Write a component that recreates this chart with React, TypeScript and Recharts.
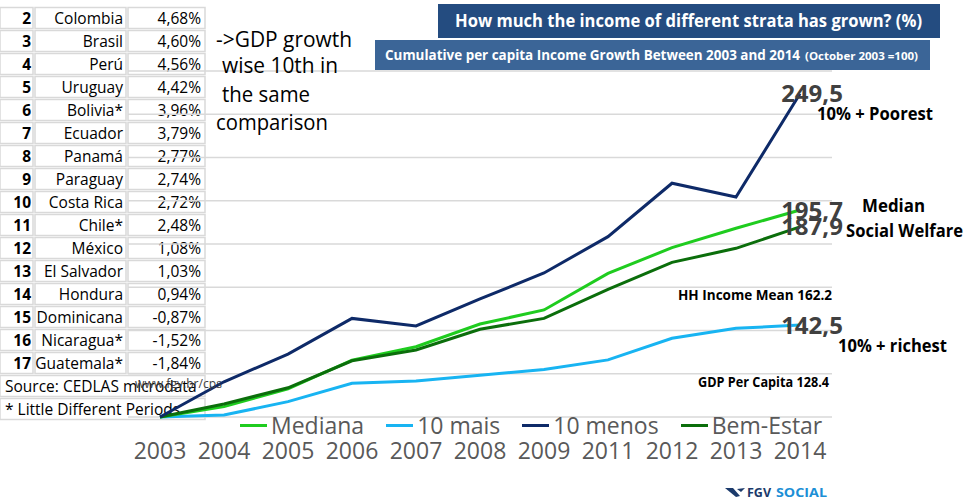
import { LineChart, Line, XAxis, YAxis, CartesianGrid, LabelList } from 'recharts';

const years = ['2003', '2004', '2005', '2006', '2007', '2008', '2009', '2011', '2012', '2013', '2014'];
const mediana = [100, 104.8, 113, 126.3, 132.5, 143, 149.5, 166.4, 178.3, 187.3, 195.7];
const mais10 = [100, 100.9, 107.1, 115.6, 116.6, 119.3, 122.0, 126.4, 136.4, 141.0, 142.5];
const menos10 = [100, 116.3, 129.1, 145.6, 142.1, 154.6, 166.6, 183.4, 208.1, 201.7, 249.5];
const bemEstar = [100, 106, 113.5, 126, 131, 140.6, 145.6, 159, 171.5, 178, 187.9];
const yTicks = [100, 120, 140, 160, 180, 200, 220, 240, 260];

const ranks = ['2', '3', '4', '5', '6', '7', '8', '9', '10', '11', '12', '13', '14', '15', '16', '17'];
const countries = ['Colombia', 'Brasil', 'Perú', 'Uruguay', 'Bolivia*', 'Ecuador', 'Panamá', 'Paraguay', 'Costa Rica', 'Chile*', 'México', 'El Salvador', 'Hondura', 'Dominicana', 'Nicaragua*', 'Guatemala*'];
const growth = ['4,68%', '4,60%', '4,56%', '4,42%', '3,96%', '3,79%', '2,77%', '2,74%', '2,72%', '2,48%', '1,08%', '1,03%', '0,94%', '-0,87%', '-1,52%', '-1,84%'];

const data = years.map((year, i) => ({
    year,
    mediana: mediana[i],
    mais10: mais10[i],
    menos10: menos10[i],
    bemEstar: bemEstar[i],
}));

const series = [
    { key: 'mediana', name: 'Mediana', color: '#1fcc1f' },
    { key: 'mais10', name: '10 mais', color: '#18b4f2' },
    { key: 'menos10', name: '10 menos', color: '#0e2a68' },
    { key: 'bemEstar', name: 'Bem-Estar', color: '#0b6e0b' },
];
const drawOrder = ['mais10', 'mediana', 'bemEstar', 'menos10'];

const font = '"Open Sans", sans-serif';

function EndLabel(props: any) {
    const { x, y, value, index } = props;
    if (index !== years.length - 1) return null;
    return (
        <text x={x + 12} y={y + 8.5} textAnchor="middle" fontFamily={font} fontWeight={700} fontSize={24} fill="#404040">
            {String(value).replace('.', ',')}
        </text>
    );
}

function YearTick(props: any) {
    const { x, y, payload } = props;
    return (
        <text x={x} y={y + 42} textAnchor="middle" fontFamily={font} fontSize={23} fill="#595959">
            {payload.value}
        </text>
    );
}

function Table() {
    const rowTop = (i: number) => 6.5 + 23 * i;
    const cols = [[0, 33], [35, 126], [128, 205]];
    return (
        <svg width={968} height={501} style={{ position: 'absolute', left: 0, top: 0 }}>
            {ranks.map((r, i) => (
                <g key={r}>
                    {cols.map((c, j) => (
                        <rect key={j} x={c[0]} y={rowTop(i) + 1} width={c[1] - c[0]} height={21} fill="none" stroke="#d9d9d9" strokeWidth={1.5} />
                    ))}
                    <text x={31} y={rowTop(i) + 17} textAnchor="end" fontFamily={font} fontWeight={700} fontSize={15.5} fill="#000">{r}</text>
                    <text x={123} y={rowTop(i) + 17} textAnchor="end" fontFamily={font} fontSize={15.5} fill="#000">{countries[i]}</text>
                    <text x={201} y={rowTop(i) + 17} textAnchor="end" fontFamily={font} fontSize={15.5} fill="#000">{growth[i]}</text>
                </g>
            ))}
            <rect x={0} y={rowTop(16) + 1} width={205} height={21} fill="none" stroke="#d9d9d9" strokeWidth={1.5} />
            <rect x={0} y={rowTop(17) + 1} width={205} height={21} fill="none" stroke="#d9d9d9" strokeWidth={1.5} />
            <text x={5} y={rowTop(16) + 17} fontFamily={font} fontSize={15.5} fill="#000">Source: CEDLAS microdata</text>
            <text x={5} y={rowTop(17) + 17} fontFamily={font} fontSize={15.5} fill="#000">* Little Different Periods</text>
        </svg>
    );
}

function Overlay() {
    return (
        <svg width={968} height={501} style={{ position: 'absolute', left: 0, top: 0, pointerEvents: 'none' }} fontFamily={font}>
            <text x={135} y={388} fontSize={13} fill="#404040" textLength={87} lengthAdjust="spacingAndGlyphs">www.fgv.br/cps</text>

            <g fontSize={21} fill="#000">
                <text x={216} y={47} textLength={136} lengthAdjust="spacingAndGlyphs">-&gt;GDP growth</text>
                <text x={222} y={73} textLength={116} lengthAdjust="spacingAndGlyphs">wise 10th in</text>
                <text x={222} y={102} textLength={88} lengthAdjust="spacingAndGlyphs">the same</text>
                <text x={216} y={130} textLength={112} lengthAdjust="spacingAndGlyphs">comparison</text>
            </g>

            <rect x={438} y={4} width={502} height={34} fill="#244c80" />
            <text x={455} y={27} fontSize={17} fontWeight={700} fill="#fff" textLength={467} lengthAdjust="spacingAndGlyphs">
                How much the income of different strata has grown? (%)
            </text>
            <rect x={375} y={40} width={555} height={30} fill="#3b6597" />
            <text x={385} y={60} fontSize={14} fontWeight={700} fill="#fff" textLength={415} lengthAdjust="spacingAndGlyphs">
                Cumulative  per capita Income Growth Between 2003 and 2014
            </text>
            <text x={805} y={60} fontSize={11} fontWeight={700} fill="#fff" textLength={113} lengthAdjust="spacingAndGlyphs">
                (October 2003 =100)
            </text>

            <g fontWeight={700} fill="#000">
                <text x={817} y={120} fontSize={17} textLength={116} lengthAdjust="spacingAndGlyphs">10% + Poorest</text>
                <text x={862} y={212} fontSize={17} textLength={63} lengthAdjust="spacingAndGlyphs">Median</text>
                <text x={846} y={237} fontSize={17} textLength={117} lengthAdjust="spacingAndGlyphs">Social Welfare</text>
                <text x={678} y={300} fontSize={13.5} textLength={154} lengthAdjust="spacingAndGlyphs">HH Income Mean 162.2</text>
                <text x={838} y={352} fontSize={17} textLength={109} lengthAdjust="spacingAndGlyphs">10% + richest</text>
                <text x={698} y={387} fontSize={13.5} textLength={131} lengthAdjust="spacingAndGlyphs">GDP Per Capita 128.4</text>
            </g>

            <polygon points="725,488 733,488 740,496 736,497" fill="#1b3a6b" />
            <polygon points="737,489 745,488 741,492" fill="#1b3a6b" />
            <text x={747} y={497} fontSize={12.5} fontWeight={700} fill="#1b3a6b">FGV</text>
            <text x={776} y={497} fontSize={12.5} fontWeight={700} fill="#1d8fd6" textLength={51} lengthAdjust="spacingAndGlyphs">SOCIAL</text>
        </svg>
    );
}

function Legend() {
    return (
        <div style={{ position: 'absolute', left: 240, top: 409, display: 'flex', gap: 22, fontFamily: font, fontSize: 23, color: '#595959', lineHeight: '32px' }}>
            {series.map((s) => (
                <div key={s.key} style={{ display: 'flex', alignItems: 'center' }}>
                    <span style={{ display: 'inline-block', width: 27, height: 3, background: s.color, marginRight: 4 }} />
                    <span>{s.name}</span>
                </div>
            ))}
        </div>
    );
}

export default function App() {
    return (
        <div style={{ position: 'absolute', left: 0, top: 0, width: 968, height: 501, background: '#fff', overflow: 'hidden' }}>
            <Table />
            <div style={{ position: 'absolute', left: 0, top: 0 }}>
                <LineChart width={968} height={501} data={data} margin={{ top: 71, right: 136, left: 128, bottom: 54 }}>
                    <CartesianGrid vertical={false} stroke="#d9d9d9" strokeWidth={1.5} />
                    <XAxis dataKey="year" height={30} axisLine={false} tickLine={false} tickSize={0} tickMargin={0}
                        padding={{ left: 32, right: 32 }} interval={0} tick={<YearTick />} />
                    <YAxis hide domain={[100, 260]} ticks={yTicks} />
                    {drawOrder.map((k) => {
                        const s = series.find((x) => x.key === k)!;
                        return (
                            <Line key={k} dataKey={k} name={s.name} stroke={s.color} strokeWidth={3} dot={false}
                                type="linear" isAnimationActive={false}>
                                <LabelList dataKey={k} content={<EndLabel />} />
                            </Line>
                        );
                    })}
                </LineChart>
            </div>
            <Legend />
            <Overlay />
        </div>
    );
}
